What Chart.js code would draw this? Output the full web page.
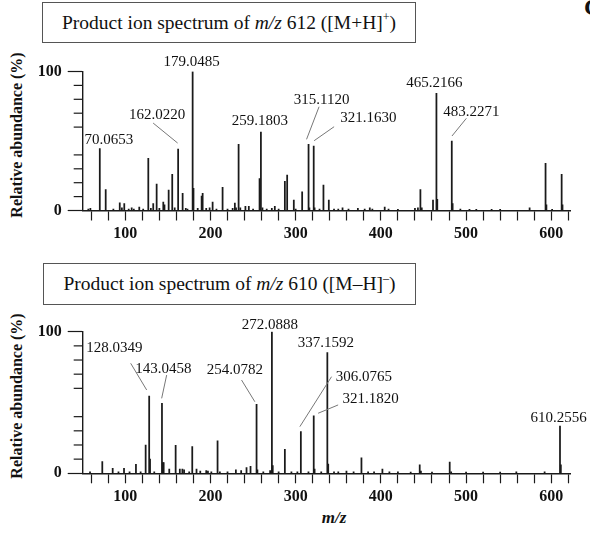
<!DOCTYPE html>
<html>
<head>
<meta charset="utf-8">
<script src="https://cdn.jsdelivr.net/npm/chart.js@4.4.1/dist/chart.umd.min.js"></script>
<style>
  body { margin: 0; background: #fff; width: 590px; height: 537px; position: relative; overflow: hidden;
         font-family: "Liberation Serif", "Times New Roman", serif; color: #111; }
  canvas { position: absolute; left: 0; }
  .box { position: absolute; box-sizing: border-box; border: 1.5px solid #555; background: #fff;
         display: flex; align-items: center; justify-content: center; font-size: 19.5px; white-space: nowrap; }
  .box sup { font-size: 12px; vertical-align: baseline; position: relative; top: -8px; line-height: 0; }
  .ytitle { position: absolute; width: 200px; text-align: center; font-weight: bold; font-size: 16px;
            transform: translate(-50%, -50%) rotate(-90deg); white-space: nowrap; }
  .xtitle { position: absolute; font-weight: bold; font-style: italic; font-size: 17px; transform: translate(-50%, -50%); }
  .panel { position: absolute; left: 584px; top: -6px; font-weight: bold; font-size: 24px; }
</style>
</head>
<body>
<div class="panel">C</div>
<div class="box" style="left:42px; top:2px; width:374px; height:41px;"><span>Product ion spectrum of <i>m/z</i> 612 ([M+H]<sup>+</sup>)</span></div>
<div class="box" style="left:43px; top:263px; width:373px; height:42px;"><span>Product ion spectrum of <i>m/z</i> 610 ([M–H]<sup>–</sup>)</span></div>
<div class="ytitle" style="left:17px; top:135px;">Relative abundance (%)</div>
<div class="ytitle" style="left:17px; top:396px;">Relative abundance (%)</div>
<div class="xtitle" style="left:334px; top:518px;">m/z</div>

<canvas id="posChart" width="590" height="210" style="top:45px;"></canvas>
<canvas id="negChart" width="590" height="200" style="top:308px;"></canvas>

<script>
// positive mode, precursor m/z 612
const posMz = [56.6, 59, 70.0653, 77, 86, 93.5, 96, 98.8, 104, 107.5, 110, 116.4, 121, 127, 130, 132.8,
  136.8, 140, 144.6, 146, 150.9, 155.1, 158, 162.0220, 167.3, 171, 173, 179.0485, 180.05, 185, 189.6,
  190.8, 195, 199, 202.5, 207, 214.2, 220, 226, 228.6, 230, 233, 235, 241, 245, 250, 257.6, 259.1803,
  261, 266, 272, 275.5, 280, 287.3, 290, 297.8, 300, 307.6, 315.1120, 316.1, 321.1630, 322.2, 328,
  332.6, 338.9, 345, 350, 355, 362, 373, 381, 387, 390, 404.5, 409, 420, 440, 443.5, 446.4, 448,
  461.2, 465.2166, 466.22, 483.2271, 484.23, 493.3, 504, 512, 530, 540, 574.6, 593.3, 594.3, 601,
  612.2, 613.2];
const posInt = [1, 1.5, 44.5, 15, 1, 5.5, 2, 5, 1, 2, 1, 2.5, 1, 37.5, 1.5, 5,
  19, 1.5, 6, 4, 14.7, 26, 2, 44.2, 12.4, 1.5, 1, 100, 16, 1.5, 10.4,
  12.4, 1.5, 2, 6, 1, 16.7, 1, 1.5, 5.4, 2, 47.6, 2, 3, 3, 1, 23, 56.5,
  2, 1, 1.5, 3, 1, 21, 25.5, 7.5, 1, 13.5, 47.6, 2, 46.4, 2, 1,
  18.3, 7.5, 1, 1, 2, 1, 1.5, 1, 2, 1, 2.5, 1, 0.8, 1.5, 2, 15, 2,
  7.5, 84.3, 8, 50, 5, 1, 0.8, 0.8, 0.8, 0.8, 2, 34, 4, 0.8,
  26, 4];
const posLabelMz = [70.0653, 162.0220, 179.0485, 259.1803, 315.1120, 321.1630, 465.2166, 483.2271];

// negative mode, precursor m/z 610
const negMz = [58.6, 73, 85.2, 92, 98.5, 105, 112.5, 118, 123.9, 128.0349, 129.04, 134, 143.0458,
  144.05, 145.05, 151.6, 159.1, 164, 167, 169, 175, 178.6, 183.6, 188, 195, 197, 201, 208.3, 211, 220,
  229.8, 236, 242.3, 247, 254.0782, 255.08, 262, 270, 272.0888, 273.09, 280, 287.3, 295, 302,
  306.0765, 315, 321.1820, 322.2, 330, 337.1592, 338.2, 345, 350, 359.6, 368, 377.2, 385, 392,
  401.8, 410, 420, 435, 445.6, 447, 460, 480.8, 482.5, 500, 520, 540, 559, 592.2, 610.2556, 611.26];
const negInt = [1, 8.2, 3.5, 1, 3.5, 1, 6.4, 1, 20, 54.6, 10, 1, 49.4,
  7.5, 7.5, 3, 19.8, 3, 3, 2.5, 1, 18.8, 3, 1.5, 2, 1.5, 1, 23, 1, 1,
  2.5, 2, 4, 5, 48.7, 2.5, 1, 2, 100, 5.5, 1, 17, 1, 1,
  29.4, 1, 40.5, 3, 1, 85.2, 6.5, 1, 1, 1.5, 1, 11, 1, 1,
  3, 1, 1, 0.8, 5.9, 1.5, 0.8, 8, 1, 0.8, 0.8, 0.8, 1, 1, 33.4, 6];
const negLabelMz = [128.0349, 143.0458, 254.0782, 272.0888, 306.0765, 321.1820, 337.1592, 610.2556];

// label placement relative to the peak top: [textDx, textDy, lineX1, lineY1, lineX2, lineY2]
const posLabelPos = [
  [9, -9], [-21, -34, -25, -26, -0.5, -6], [-1, -9], [-1, -11],
  [13, -44, 10.5, -37.6, -2, -5], [54.6, -27.7, 20.4, -19.3, 0.4, -5.3], [-2, -10],
  [19.6, -29.3, 14.6, -22.7, 0.2, -5]
];
const negLabelPos = [
  [-34.7, -48, -18.5, -32.7, -2.5, -6], [1.5, -34.3, 4.7, -28.3, -0.3, -5],
  [-21.7, -34.3, -15, -24.3, -1.7, -2.6], [-2, -7],
  [63, -54.4, 30.7, -55, -1, -5], [57, -16.7, 24.4, -11, 4.4, -2.7], [-1.5, -10], [-1.4, -8.3]
];

const ink = '#1a1a1a';
const serif = '"Liberation Serif", "Times New Roman", serif';

// peak annotations with optional leader lines
const peakLabels = {
  id: 'peakLabels',
  afterDatasetsDraw(chart, args, opts) {
    const { ctx, scales: { x, y } } = chart;
    ctx.save();
    ctx.font = '15px ' + serif;
    ctx.fillStyle = '#111';
    ctx.textAlign = 'center';
    ctx.textBaseline = 'middle';
    opts.labelMz.forEach((m, k) => {
      const i = opts.mz.indexOf(m);
      const px = x.getPixelForValue(opts.mz[i]);
      const py = y.getPixelForValue(opts.intensity[i]);
      const p = opts.pos[k];
      ctx.fillText(m.toFixed(4), px + p[0], py + p[1]);
      if (p.length > 2) {
        ctx.strokeStyle = '#777';
        ctx.lineWidth = 1;
        ctx.beginPath();
        ctx.moveTo(px + p[2], py + p[3]);
        ctx.lineTo(px + p[4], py + p[5]);
        ctx.stroke();
      }
    });
    ctx.restore();
  }
};

// short minor ticks on the intensity axis
const minorTicks = {
  id: 'minorTicks',
  afterDraw(chart) {
    const { ctx, chartArea, scales: { y } } = chart;
    ctx.save();
    ctx.strokeStyle = ink;
    ctx.lineWidth = 1.2;
    for (let v = 10; v < 100; v += 10) {
      if (v === 50) continue;
      const py = y.getPixelForValue(v);
      ctx.beginPath();
      ctx.moveTo(chartArea.left - 9, py);
      ctx.lineTo(chartArea.left, py);
      ctx.stroke();
    }
    ctx.restore();
  }
};

function makeSpectrum(id, mz, intensity, labelMz, labelPos, padTop, xHeight) {
  return new Chart(document.getElementById(id), {
    type: 'bar',
    data: {
      datasets: [{
        data: mz.map((m, i) => ({ x: m, y: intensity[i] })),
        backgroundColor: ink,
        borderWidth: 0,
        barThickness: 1.1
      }]
    },
    options: {
      responsive: false,
      animation: false,
      devicePixelRatio: 1,
      layout: { padding: { top: padTop, right: 20, left: 0, bottom: 0 } },
      plugins: {
        legend: { display: false },
        tooltip: { enabled: false },
        peakLabels: { mz, intensity, labelMz, pos: labelPos }
      },
      scales: {
        x: {
          type: 'linear',
          min: 50,
          max: 622,
          offset: false,
          afterFit: s => { s.height = xHeight; },
          grid: { drawOnChartArea: false, offset: false, tickLength: 10, tickColor: ink, tickWidth: 1.2 },
          border: { color: ink, width: 1.4 },
          ticks: {
            stepSize: 20,
            includeBounds: false,
            autoSkip: false,
            maxRotation: 0,
            padding: 3.5,
            color: '#111',
            font: { family: serif, size: 16, weight: 'bold' },
            callback: v => (v % 100 === 0 ? v : '')
          }
        },
        y: {
          min: 0,
          max: 100,
          afterFit: s => { s.width = 82.7; },
          grid: {
            drawOnChartArea: false,
            tickLength: 15,
            tickWidth: 1.2,
            tickColor: c => (c.tick && c.tick.value % 50 === 0 ? ink : 'rgba(0,0,0,0)')
          },
          border: { color: ink, width: 1.4 },
          ticks: {
            stepSize: 10,
            padding: 6,
            color: '#111',
            font: { family: serif, size: 16, weight: 'bold' },
            callback: v => (v % 50 === 0 ? v : '')
          }
        }
      }
    },
    plugins: [peakLabels, minorTicks]
  });
}

makeSpectrum('posChart', posMz, posInt, posLabelMz, posLabelPos, 26.5, 44.5);
makeSpectrum('negChart', negMz, negInt, negLabelMz, negLabelPos, 23.7, 34.7);
</script>
</body>
</html>
